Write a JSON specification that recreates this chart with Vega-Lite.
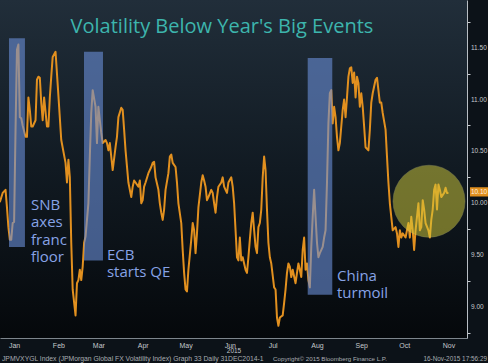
{
  "$schema": "https://vega.github.io/schema/vega-lite/v6.json",
  "width": 467,
  "height": 338,
  "autosize": {"type": "none"},
  "padding": {"left": 0, "top": 0, "right": 21, "bottom": 25},
  "background": "#0c1218",
  "config": {
    "view": {"stroke": null, "fill": {"gradient": "linear", "x1": 0, "y1": 0, "x2": 0, "y2": 1, "stops": [{"offset": 0, "color": "#212e3a"}, {"offset": 0.5, "color": "#111a22"}, {"offset": 1, "color": "#05080b"}]}},
    "axis": {"zindex": 1}
  },
  "datasets": {
    "vol": [
      {"date": "2015-01-06", "v": 10.01}, {"date": "2015-01-08", "v": 10.10}, {"date": "2015-01-10", "v": 10.13},
      {"date": "2015-01-11", "v": 9.96}, {"date": "2015-01-12", "v": 9.77}, {"date": "2015-01-13", "v": 9.65},
      {"date": "2015-01-14", "v": 9.65}, {"date": "2015-01-15", "v": 9.81}, {"date": "2015-01-16", "v": 9.82},
      {"date": "2015-01-17", "v": 10.71}, {"date": "2015-01-18", "v": 11.48}, {"date": "2015-01-19", "v": 11.53},
      {"date": "2015-01-20", "v": 10.83}, {"date": "2015-01-21", "v": 10.82}, {"date": "2015-01-22", "v": 10.75},
      {"date": "2015-01-24", "v": 10.64}, {"date": "2015-01-25", "v": 10.64}, {"date": "2015-01-26", "v": 11.02},
      {"date": "2015-01-27", "v": 10.90}, {"date": "2015-01-28", "v": 10.74}, {"date": "2015-01-29", "v": 10.74},
      {"date": "2015-01-31", "v": 10.80}, {"date": "2015-02-01", "v": 11.19}, {"date": "2015-02-02", "v": 11.22},
      {"date": "2015-02-03", "v": 11.21}, {"date": "2015-02-04", "v": 10.97}, {"date": "2015-02-05", "v": 10.80},
      {"date": "2015-02-06", "v": 11.02}, {"date": "2015-02-08", "v": 10.74}, {"date": "2015-02-09", "v": 10.74},
      {"date": "2015-02-10", "v": 11.02}, {"date": "2015-02-11", "v": 11.22}, {"date": "2015-02-12", "v": 11.41},
      {"date": "2015-02-14", "v": 11.46}, {"date": "2015-02-16", "v": 11.04}, {"date": "2015-02-18", "v": 10.61},
      {"date": "2015-02-21", "v": 10.39}, {"date": "2015-02-22", "v": 10.20}, {"date": "2015-02-23", "v": 10.42},
      {"date": "2015-02-24", "v": 10.25}, {"date": "2015-02-25", "v": 9.62}, {"date": "2015-02-26", "v": 9.17},
      {"date": "2015-02-28", "v": 8.92}, {"date": "2015-03-01", "v": 9.23}, {"date": "2015-03-02", "v": 9.26},
      {"date": "2015-03-03", "v": 9.36}, {"date": "2015-03-04", "v": 9.26}, {"date": "2015-03-05", "v": 9.39},
      {"date": "2015-03-06", "v": 9.62}, {"date": "2015-03-07", "v": 9.68}, {"date": "2015-03-09", "v": 10.00},
      {"date": "2015-03-10", "v": 10.45}, {"date": "2015-03-11", "v": 10.87}, {"date": "2015-03-12", "v": 11.09},
      {"date": "2015-03-14", "v": 10.93}, {"date": "2015-03-15", "v": 10.58}, {"date": "2015-03-16", "v": 10.93},
      {"date": "2015-03-17", "v": 10.80}, {"date": "2015-03-18", "v": 10.68}, {"date": "2015-03-19", "v": 10.58},
      {"date": "2015-03-21", "v": 10.61}, {"date": "2015-03-22", "v": 10.58}, {"date": "2015-03-23", "v": 10.51},
      {"date": "2015-03-24", "v": 10.58}, {"date": "2015-03-25", "v": 10.45}, {"date": "2015-03-26", "v": 10.32},
      {"date": "2015-03-28", "v": 10.54}, {"date": "2015-03-29", "v": 10.64}, {"date": "2015-03-30", "v": 10.83},
      {"date": "2015-04-01", "v": 10.92}, {"date": "2015-04-02", "v": 10.90}, {"date": "2015-04-03", "v": 10.71},
      {"date": "2015-04-04", "v": 10.51}, {"date": "2015-04-06", "v": 10.20}, {"date": "2015-04-08", "v": 10.06},
      {"date": "2015-04-09", "v": 10.16}, {"date": "2015-04-10", "v": 10.22}, {"date": "2015-04-11", "v": 10.20},
      {"date": "2015-04-13", "v": 10.16}, {"date": "2015-04-14", "v": 10.22}, {"date": "2015-04-15", "v": 10.00},
      {"date": "2015-04-16", "v": 10.03}, {"date": "2015-04-17", "v": 10.16}, {"date": "2015-04-18", "v": 10.20},
      {"date": "2015-04-20", "v": 10.29}, {"date": "2015-04-22", "v": 10.35}, {"date": "2015-04-23", "v": 10.39},
      {"date": "2015-04-24", "v": 10.40}, {"date": "2015-04-25", "v": 10.25}, {"date": "2015-04-27", "v": 10.13},
      {"date": "2015-04-28", "v": 10.00}, {"date": "2015-04-29", "v": 9.91}, {"date": "2015-04-30", "v": 9.84},
      {"date": "2015-05-01", "v": 9.94}, {"date": "2015-05-02", "v": 10.13}, {"date": "2015-05-04", "v": 10.29},
      {"date": "2015-05-05", "v": 10.45}, {"date": "2015-05-06", "v": 10.47}, {"date": "2015-05-07", "v": 10.39},
      {"date": "2015-05-09", "v": 10.35}, {"date": "2015-05-10", "v": 10.20}, {"date": "2015-05-11", "v": 10.00},
      {"date": "2015-05-13", "v": 9.81}, {"date": "2015-05-14", "v": 9.55}, {"date": "2015-05-15", "v": 9.33},
      {"date": "2015-05-16", "v": 9.17}, {"date": "2015-05-17", "v": 9.15}, {"date": "2015-05-18", "v": 9.36},
      {"date": "2015-05-20", "v": 9.65}, {"date": "2015-05-21", "v": 9.81}, {"date": "2015-05-22", "v": 9.74},
      {"date": "2015-05-23", "v": 9.52}, {"date": "2015-05-24", "v": 9.71}, {"date": "2015-05-25", "v": 9.96},
      {"date": "2015-05-27", "v": 10.20}, {"date": "2015-05-28", "v": 10.27}, {"date": "2015-05-29", "v": 10.22},
      {"date": "2015-05-30", "v": 10.16}, {"date": "2015-05-31", "v": 10.03}, {"date": "2015-06-01", "v": 10.06},
      {"date": "2015-06-03", "v": 10.13}, {"date": "2015-06-04", "v": 10.10}, {"date": "2015-06-05", "v": 10.00},
      {"date": "2015-06-06", "v": 9.91}, {"date": "2015-06-07", "v": 10.06}, {"date": "2015-06-08", "v": 10.16},
      {"date": "2015-06-10", "v": 10.20}, {"date": "2015-06-11", "v": 10.25}, {"date": "2015-06-12", "v": 10.16},
      {"date": "2015-06-13", "v": 10.13}, {"date": "2015-06-14", "v": 10.10}, {"date": "2015-06-15", "v": 10.20},
      {"date": "2015-06-17", "v": 10.25}, {"date": "2015-06-18", "v": 10.16}, {"date": "2015-06-19", "v": 10.00},
      {"date": "2015-06-20", "v": 9.74}, {"date": "2015-06-21", "v": 9.48}, {"date": "2015-06-22", "v": 9.45},
      {"date": "2015-06-23", "v": 9.67}, {"date": "2015-06-24", "v": 9.45}, {"date": "2015-06-25", "v": 9.48},
      {"date": "2015-06-26", "v": 9.42}, {"date": "2015-06-27", "v": 9.36}, {"date": "2015-06-28", "v": 9.33},
      {"date": "2015-06-29", "v": 9.48}, {"date": "2015-06-30", "v": 9.65}, {"date": "2015-07-01", "v": 9.81},
      {"date": "2015-07-02", "v": 9.91}, {"date": "2015-07-03", "v": 9.74}, {"date": "2015-07-04", "v": 9.58},
      {"date": "2015-07-05", "v": 9.52}, {"date": "2015-07-06", "v": 9.77}, {"date": "2015-07-07", "v": 9.81},
      {"date": "2015-07-08", "v": 9.94}, {"date": "2015-07-09", "v": 10.25}, {"date": "2015-07-10", "v": 10.45},
      {"date": "2015-07-11", "v": 10.32}, {"date": "2015-07-12", "v": 9.94}, {"date": "2015-07-13", "v": 9.62},
      {"date": "2015-07-14", "v": 9.48}, {"date": "2015-07-15", "v": 9.42}, {"date": "2015-07-17", "v": 9.19},
      {"date": "2015-07-18", "v": 9.17}, {"date": "2015-07-19", "v": 8.90}, {"date": "2015-07-20", "v": 8.82},
      {"date": "2015-07-21", "v": 8.90}, {"date": "2015-07-23", "v": 8.92}, {"date": "2015-07-24", "v": 9.04},
      {"date": "2015-07-25", "v": 9.17}, {"date": "2015-07-26", "v": 9.33}, {"date": "2015-07-27", "v": 9.42},
      {"date": "2015-07-28", "v": 9.39}, {"date": "2015-07-29", "v": 9.29}, {"date": "2015-07-30", "v": 9.36},
      {"date": "2015-08-01", "v": 9.23}, {"date": "2015-08-02", "v": 9.33}, {"date": "2015-08-03", "v": 9.42},
      {"date": "2015-08-04", "v": 9.36}, {"date": "2015-08-05", "v": 9.29}, {"date": "2015-08-06", "v": 9.55},
      {"date": "2015-08-07", "v": 9.67}, {"date": "2015-08-08", "v": 9.36}, {"date": "2015-08-09", "v": 9.42},
      {"date": "2015-08-10", "v": 9.26}, {"date": "2015-08-11", "v": 9.19}, {"date": "2015-08-12", "v": 9.58},
      {"date": "2015-08-13", "v": 9.87}, {"date": "2015-08-14", "v": 10.13}, {"date": "2015-08-15", "v": 9.87},
      {"date": "2015-08-16", "v": 9.62}, {"date": "2015-08-17", "v": 9.48}, {"date": "2015-08-18", "v": 9.52},
      {"date": "2015-08-20", "v": 9.58}, {"date": "2015-08-21", "v": 9.67}, {"date": "2015-08-22", "v": 9.74},
      {"date": "2015-08-23", "v": 10.20}, {"date": "2015-08-24", "v": 10.77}, {"date": "2015-08-25", "v": 11.06},
      {"date": "2015-08-26", "v": 11.09}, {"date": "2015-08-27", "v": 10.77}, {"date": "2015-08-28", "v": 10.93},
      {"date": "2015-08-29", "v": 10.83}, {"date": "2015-08-30", "v": 10.64}, {"date": "2015-08-31", "v": 10.51},
      {"date": "2015-09-01", "v": 10.58}, {"date": "2015-09-02", "v": 10.74}, {"date": "2015-09-03", "v": 10.90},
      {"date": "2015-09-04", "v": 11.00}, {"date": "2015-09-05", "v": 10.83}, {"date": "2015-09-06", "v": 11.02},
      {"date": "2015-09-07", "v": 11.22}, {"date": "2015-09-08", "v": 11.30}, {"date": "2015-09-09", "v": 11.31},
      {"date": "2015-09-10", "v": 11.16}, {"date": "2015-09-11", "v": 11.26}, {"date": "2015-09-12", "v": 11.02},
      {"date": "2015-09-13", "v": 11.22}, {"date": "2015-09-14", "v": 11.16}, {"date": "2015-09-15", "v": 10.93},
      {"date": "2015-09-16", "v": 11.06}, {"date": "2015-09-17", "v": 10.93}, {"date": "2015-09-18", "v": 10.74},
      {"date": "2015-09-19", "v": 10.54}, {"date": "2015-09-21", "v": 10.51}, {"date": "2015-09-22", "v": 10.71},
      {"date": "2015-09-23", "v": 10.97}, {"date": "2015-09-24", "v": 11.06}, {"date": "2015-09-26", "v": 11.19},
      {"date": "2015-09-27", "v": 11.21}, {"date": "2015-09-28", "v": 11.09}, {"date": "2015-09-29", "v": 10.97},
      {"date": "2015-09-30", "v": 10.97}, {"date": "2015-10-01", "v": 10.87}, {"date": "2015-10-03", "v": 10.71},
      {"date": "2015-10-04", "v": 10.45}, {"date": "2015-10-05", "v": 10.20}, {"date": "2015-10-06", "v": 10.00},
      {"date": "2015-10-07", "v": 9.87}, {"date": "2015-10-08", "v": 9.74}, {"date": "2015-10-10", "v": 9.77},
      {"date": "2015-10-11", "v": 9.71}, {"date": "2015-10-12", "v": 9.58}, {"date": "2015-10-13", "v": 9.74},
      {"date": "2015-10-14", "v": 9.67}, {"date": "2015-10-15", "v": 9.71}, {"date": "2015-10-17", "v": 9.67},
      {"date": "2015-10-18", "v": 9.74}, {"date": "2015-10-19", "v": 9.81}, {"date": "2015-10-20", "v": 9.67},
      {"date": "2015-10-21", "v": 9.87}, {"date": "2015-10-22", "v": 9.74}, {"date": "2015-10-23", "v": 9.55},
      {"date": "2015-10-24", "v": 9.74}, {"date": "2015-10-25", "v": 9.87}, {"date": "2015-10-26", "v": 10.00},
      {"date": "2015-10-27", "v": 9.74}, {"date": "2015-10-28", "v": 9.77}, {"date": "2015-10-29", "v": 10.03},
      {"date": "2015-10-30", "v": 9.94}, {"date": "2015-10-31", "v": 9.81}, {"date": "2015-11-02", "v": 9.74},
      {"date": "2015-11-03", "v": 9.67}, {"date": "2015-11-04", "v": 9.84}, {"date": "2015-11-05", "v": 9.94},
      {"date": "2015-11-06", "v": 10.13}, {"date": "2015-11-07", "v": 10.18}, {"date": "2015-11-08", "v": 9.94},
      {"date": "2015-11-09", "v": 10.18}, {"date": "2015-11-10", "v": 10.13}, {"date": "2015-11-11", "v": 10.06},
      {"date": "2015-11-13", "v": 10.10}, {"date": "2015-11-14", "v": 10.15}, {"date": "2015-11-15", "v": 10.10},
      {"date": "2015-11-16", "v": 10.10}
    ],
    "events": [
      {"event": "SNB", "start": "2015-01-12T10:00Z", "end": "2015-01-23T14:00Z", "top": 11.59, "bottom": 9.58},
      {"event": "ECB", "start": "2015-03-05T22:00Z", "end": "2015-03-19T05:00Z", "top": 11.46, "bottom": 9.45},
      {"event": "China", "start": "2015-08-09T12:00Z", "end": "2015-08-26T17:00Z", "top": 11.40, "bottom": 9.12}
    ],
    "circle": [{"date": "2015-11-02T10:00Z", "v": 10.02}],
    "notes": [
      {"date": "2015-01-27T19:00Z", "v": 9.984, "label": "SNB\naxes\nfranc\nfloor"},
      {"date": "2015-03-22T00:00Z", "v": 9.502, "label": "ECB\nstarts QE"},
      {"date": "2015-08-30T00:00Z", "v": 9.30, "label": "China\nturmoil"}
    ],
    "titleRow": [{"date": "2015-06-10T12:00Z", "v": 11.641, "label": "Volatility Below Year's Big Events"}],
    "ylabels": [
      {"date": "2015-12-01T19:00Z", "v": 9.0, "label": "9.00"},
      {"date": "2015-12-01T19:00Z", "v": 9.5, "label": "9.50"},
      {"date": "2015-12-01T19:00Z", "v": 10.0, "label": "10.00"},
      {"date": "2015-12-01T19:00Z", "v": 10.5, "label": "10.50"},
      {"date": "2015-12-01T19:00Z", "v": 11.0, "label": "11.00"},
      {"date": "2015-12-01T19:00Z", "v": 11.5, "label": "11.50"}
    ],
    "last": [{"start": "2015-12-01T02:00Z", "end": "2015-12-13T17:00Z", "lo": 10.065, "hi": 10.155, "mid": "2015-12-07T10:00Z", "v": 10.11, "label": "10.10"}],
    "footL": [{"date": "2015-01-07T12:00Z", "v": 8.502, "label": "JPMVXYGL Index (JPMorgan Global FX Volatility Index) Graph 33  Daily 31DEC2014-1"}],
    "footC": [{"date": "2015-08-25T02:00Z", "v": 8.502, "label": "Copyright\u00a9 2015 Bloomberg Finance L.P."}],
    "footR": [{"date": "2015-12-13T00:00Z", "v": 8.502, "label": "16-Nov-2015 17:56:29"}]
  },
  "layer": [
    {
      "data": {"name": "vol"},
      "mark": {"type": "line", "color": "#e2901f", "strokeWidth": 2, "strokeJoin": "round"},
      "encoding": {
        "x": {
          "field": "date", "type": "temporal", "title": "2015",
          "scale": {"type": "utc", "domain": [{"year": 2015, "month": 1, "date": 6, "hours": 3, "utc": true}, {"year": 2015, "month": 11, "date": 29, "utc": true}], "nice": false},
          "axis": {
            "orient": "bottom",
            "zindex": 1,
            "values": [
              {"year": 2015, "month": 1, "date": 16, "utc": true},
              {"year": 2015, "month": 2, "date": 1, "utc": true}, {"year": 2015, "month": 2, "date": 16, "utc": true},
              {"year": 2015, "month": 3, "date": 1, "utc": true}, {"year": 2015, "month": 3, "date": 16, "utc": true},
              {"year": 2015, "month": 4, "date": 1, "utc": true}, {"year": 2015, "month": 4, "date": 16, "utc": true},
              {"year": 2015, "month": 5, "date": 1, "utc": true}, {"year": 2015, "month": 5, "date": 16, "utc": true},
              {"year": 2015, "month": 6, "date": 1, "utc": true}, {"year": 2015, "month": 6, "date": 16, "utc": true},
              {"year": 2015, "month": 7, "date": 1, "utc": true}, {"year": 2015, "month": 7, "date": 16, "utc": true},
              {"year": 2015, "month": 8, "date": 1, "utc": true}, {"year": 2015, "month": 8, "date": 16, "utc": true},
              {"year": 2015, "month": 9, "date": 1, "utc": true}, {"year": 2015, "month": 9, "date": 16, "utc": true},
              {"year": 2015, "month": 10, "date": 1, "utc": true}, {"year": 2015, "month": 10, "date": 16, "utc": true},
              {"year": 2015, "month": 11, "date": 1, "utc": true}, {"year": 2015, "month": 11, "date": 16, "utc": true}
            ],
            "labelExpr": "utcdate(datum.value) == 16 ? utcFormat(datum.value, '%b') : ''",
            "tickOpacity": {"condition": {"test": "utcdate(datum.value) == 1", "value": 1}, "value": 0},
            "grid": false,
            "domain": true,
            "domainColor": "#7d858c",
            "tickColor": "#9aa1a8",
            "tickSize": 3,
            "labelColor": "#c4c8cc",
            "labelFont": "Liberation Sans",
            "labelFontSize": 7,
            "labelPadding": 0,
            "labelFlush": false,
            "labelOverlap": false,
            "title": "2015",
            "titleColor": "#c4c8cc",
            "titleFont": "Liberation Sans",
            "titleFontSize": 6.5,
            "titleFontWeight": "normal",
            "titlePadding": -1
          }
        },
        "y": {
          "field": "v", "type": "quantitative", "title": null,
          "scale": {"domain": [8.7023, 11.9586], "nice": false, "zero": false},
          "axis": {
            "orient": "right",
            "zindex": 1,
            "values": [8.75, 9, 9.25, 9.5, 9.75, 10, 10.25, 10.5, 10.75, 11, 11.25, 11.5, 11.75],
            "labels": false,
            "grid": false,
            "domainColor": "#b8bec4",
            "tickColor": "#c8ccd0",
            "tickSize": 3,
            "title": null
          }
        }
      }
    },
    {
      "data": {"name": "events"},
      "mark": {"type": "rect", "color": "#6b8fd9", "opacity": 0.6},
      "encoding": {
        "x": {"field": "start", "type": "temporal", "title": "2015"},
        "x2": {"field": "end"},
        "y": {"field": "top", "type": "quantitative", "title": null},
        "y2": {"field": "bottom"}
      }
    },
    {
      "data": {"name": "circle"},
      "mark": {"type": "point", "shape": "circle", "filled": true, "size": 5184, "color": "#d6cf3c", "opacity": 0.5, "stroke": "#eeea88", "strokeWidth": 1, "strokeOpacity": 0.5},
      "encoding": {
        "x": {"field": "date", "type": "temporal", "title": "2015"},
        "y": {"field": "v", "type": "quantitative", "title": null}
      }
    },
    {
      "data": {"name": "notes"},
      "mark": {"type": "text", "align": "left", "baseline": "middle", "lineBreak": "\n", "lineHeight": 17.5, "font": "Open Sans", "fontSize": 15, "color": "#87a3e6"},
      "encoding": {
        "x": {"field": "date", "type": "temporal", "title": "2015"},
        "y": {"field": "v", "type": "quantitative", "title": null},
        "text": {"field": "label"}
      }
    },
    {
      "data": {"name": "titleRow"},
      "mark": {"type": "text", "align": "center", "baseline": "alphabetic", "font": "Open Sans", "fontSize": 20, "color": "#3db5ad"},
      "encoding": {
        "x": {"field": "date", "type": "temporal", "title": "2015"},
        "y": {"field": "v", "type": "quantitative", "title": null},
        "text": {"field": "label"}
      }
    },
    {
      "data": {"name": "ylabels"},
      "mark": {"type": "text", "align": "left", "baseline": "middle", "font": "Liberation Sans", "fontSize": 6.5, "color": "#c4c8cc", "clip": false},
      "encoding": {
        "x": {"field": "date", "type": "temporal", "title": "2015"},
        "y": {"field": "v", "type": "quantitative", "title": null},
        "text": {"field": "label"}
      }
    },
    {
      "data": {"name": "last"},
      "mark": {"type": "rect", "color": "#e2901f", "clip": false},
      "encoding": {
        "x": {"field": "start", "type": "temporal", "title": "2015"},
        "x2": {"field": "end"},
        "y": {"field": "hi", "type": "quantitative", "title": null},
        "y2": {"field": "lo"}
      }
    },
    {
      "data": {"name": "last"},
      "mark": {"type": "text", "align": "center", "baseline": "middle", "font": "Liberation Sans", "fontSize": 6.5, "color": "#fff4e0", "clip": false},
      "encoding": {
        "x": {"field": "mid", "type": "temporal", "title": "2015"},
        "y": {"field": "v", "type": "quantitative", "title": null},
        "text": {"field": "label"}
      }
    },
    {
      "data": {"name": "footL"},
      "mark": {"type": "text", "align": "left", "baseline": "middle", "font": "Liberation Sans", "fontSize": 6.8, "color": "#a9adb2", "clip": false},
      "encoding": {
        "x": {"field": "date", "type": "temporal", "title": "2015"},
        "y": {"field": "v", "type": "quantitative", "title": null},
        "text": {"field": "label"}
      }
    },
    {
      "data": {"name": "footC"},
      "mark": {"type": "text", "align": "center", "baseline": "middle", "font": "Liberation Sans", "fontSize": 6.2, "color": "#a9adb2", "clip": false},
      "encoding": {
        "x": {"field": "date", "type": "temporal", "title": "2015"},
        "y": {"field": "v", "type": "quantitative", "title": null},
        "text": {"field": "label"}
      }
    },
    {
      "data": {"name": "footR"},
      "mark": {"type": "text", "align": "right", "baseline": "middle", "font": "Liberation Sans", "fontSize": 6.4, "color": "#a9adb2", "clip": false},
      "encoding": {
        "x": {"field": "date", "type": "temporal", "title": "2015"},
        "y": {"field": "v", "type": "quantitative", "title": null},
        "text": {"field": "label"}
      }
    }
  ]
}
